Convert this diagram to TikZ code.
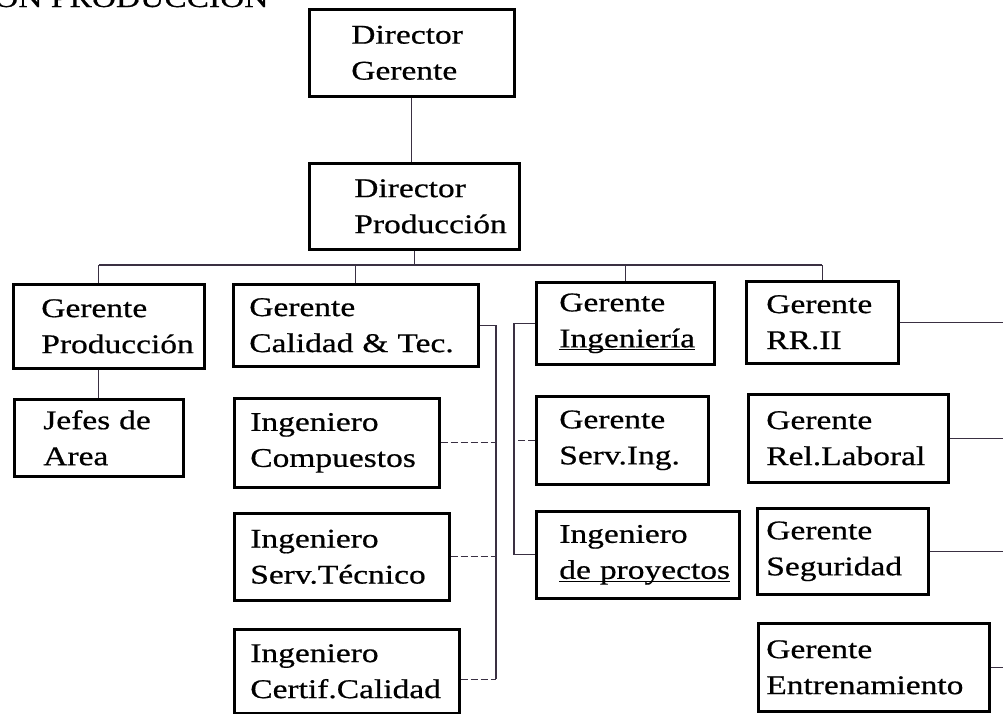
\documentclass[tikz,border=0pt]{standalone}
\usepackage{fontspec}
\setmainfont[FakeStretch=1.24,FakeBold=0.6]{Liberation Serif}
\usepackage{tikz}
\usetikzlibrary{calc}
\definecolor{lineGray}{RGB}{58,48,66}
\newcommand{\subrayado}[1]{\mbox{\setbox0=\hbox{#1}\rlap{\rule[-3pt]{\wd0}{1pt}}\box0}}
\hyphenpenalty=10000
\tikzset{
  puesto/.style n args={3}{
    draw,
    line width=2.6pt,
    anchor=north west,
    inner xsep=#2pt,
    inner ysep=0pt,
    text width=#1pt,
    minimum height=#3pt,
    align=left
  }
}

\begin{document}
\begin{tikzpicture}[
      x=1pt, y=-1pt,
      every node/.style={font=\fontsize{27}{36}\selectfont},
      linea/.style={lineGray, line width=1.3pt},
      tenue/.style={linea, dash pattern=on 7pt off 3pt}
      ]
      \useasboundingbox (0,0) rectangle (1003,713);

      \node[anchor=base west, inner sep=0pt] (titulo) at (-6,7) {ON PRODUCCION};

      % direccion
      \node[puesto={121}{42}{87}] (dg) at (308,8) {Director\\Gerente};
      \node[puesto={120}{45}{86}] (dp) at (308,162) {Director\\Producción};

      % gerencias
      \node[puesto={135}{28}{84}] (gp) at (12,283) {Gerente\\Producción};
      \node[puesto={213}{16}{82}] (cal) at (232,283) {Gerente\\Calidad \& Tec.};
      \node[puesto={132}{23}{82}] (ing) at (535,281) {Gerente\\\subrayado{Ingeniería}};
      \node[puesto={112}{20}{82}] (rrii) at (745,280) {Gerente\\RR.II};

      % dependencias
      \node[puesto={111}{29}{77}] (jefes) at (13,398) {Jefes de\\Area};
      \node[puesto={173}{16}{89}] (comp) at (233,397) {Ingeniero\\Compuestos};
      \node[puesto={183}{16}{87}] (servt) at (233,512) {Ingeniero\\Serv.Técnico};
      \node[puesto={193}{16}{84}] (certif) at (233,628) {Ingeniero\\Certif.Calidad};
      \node[puesto={126}{23}{88}] (servi) at (535,395) {Gerente\\Serv.Ing.};
      \node[puesto={157}{23}{87}] (proy) at (535,510) {Ingeniero\\\subrayado{de proyectos}};
      \node[puesto={164}{18}{88}] (rel) at (747,393) {Gerente\\Rel.Laboral};
      \node[puesto={153}{9}{86}] (seg) at (756,507) {Gerente\\Seguridad};
      \node[puesto={215}{8}{88}] (entr) at (757,622) {Gerente\\Entrenamiento};

      \coordinate (bus) at (0,265);
      \coordinate (ejeC) at (496,0);
      \coordinate (ejeI) at (514,0);
      \coordinate (borde) at (1003,0);
      \coordinate (certifE) at ($(certif.east)+(0,8)$);

      \draw[linea] (dg.south) -- (dg.south |- dp.north);
      \draw[linea] (dp.south) -- (dp.south |- bus);
      \draw[linea] (bus -| jefes) -- (bus -| rrii);
      \draw[linea] (bus -| jefes) -- (gp.north -| jefes);
      \foreach \n in {cal, ing, rrii}{
        \draw[linea] (bus -| \n) -- (\n.north);
      }
      \draw[linea] (gp.south -| jefes) -- (jefes.north);

      \draw[linea] (cal.east) -- (cal.east -| ejeC) -- (certifE -| ejeC);
      \foreach \n in {comp, servt}{
        \draw[tenue] (\n.east) -- (\n.east -| ejeC);
      }
      \draw[tenue] (certifE) -- (certifE -| ejeC);

      \draw[linea] (ing.west) -- (ing.west -| ejeI) -- (proy.west -| ejeI) -- (proy.west);
      \draw[tenue] (servi.west) -- (servi.west -| ejeI);

      \foreach \n in {rrii, rel, seg, entr}{
        \draw[linea] (\n.east) -- (\n.east -| borde);
      }
    \end{tikzpicture}
\end{document}
